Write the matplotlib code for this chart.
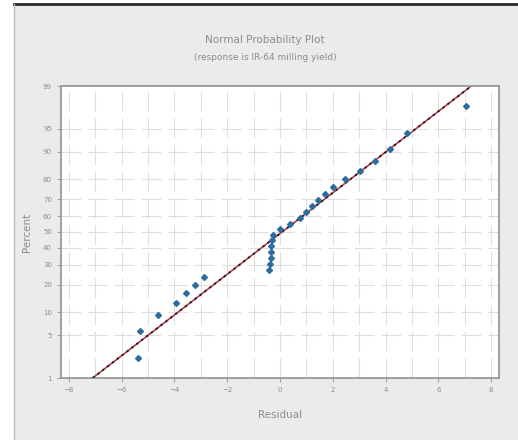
import math
import numpy as np
import matplotlib
matplotlib.use("Agg")
from matplotlib import pyplot as plt
from matplotlib.patches import Rectangle
from matplotlib.lines import Line2D

# residuals in rank order and their plotted percent positions
residual = [-5.38, -5.30, -4.62, -3.94, -3.56, -3.22, -2.88,
            -0.40, -0.38, -0.36, -0.35, -0.33, -0.30, -0.28,
            0.00, 0.38, 0.76, 0.98, 1.21, 1.44, 1.70, 2.00,
            2.46, 3.03, 3.60, 4.17, 4.81, 7.05]
percent = [2.2, 5.8, 9.3, 12.8, 16.4, 19.9, 23.5,
           27.0, 30.5, 34.1, 37.6, 41.2, 44.7, 48.2,
           51.8, 55.3, 58.8, 62.4, 65.9, 69.5, 73.0, 76.5,
           80.1, 83.6, 87.2, 90.7, 94.2, 97.8]

# fitted normal line (ends at 1% and 99%)
fit_pct = [1, 99]
fit_res = [-7.10, 7.25]

x_ticks = [-8, -6, -4, -2, 0, 2, 4, 6, 8]
y_ticks = [1, 5, 10, 20, 30, 40, 50, 60, 70, 80, 90, 95, 99]

_erf = np.vectorize(math.erf, otypes=[float])


def norm_cdf(z):
    z = np.asarray(z, float)
    if z.size == 0:
        return z
    return 0.5 * (1 + _erf(z / math.sqrt(2)))


def norm_ppf(p):
    p = np.clip(np.asarray(p, float), 1e-12, 1 - 1e-12)
    if p.size == 0:
        return p
    lo = np.full(p.shape, -12.0)
    hi = np.full(p.shape, 12.0)
    for i in range(70):
        mid = (lo + hi) / 2
        low = norm_cdf(mid) < p
        lo = np.where(low, mid, lo)
        hi = np.where(low, hi, mid)
    return (lo + hi) / 2


def fwd(v):
    return norm_ppf(np.asarray(v, float) / 100.0)


def inv(z):
    return norm_cdf(z) * 100.0


grey = "#8c8c8c"

fig = plt.figure(figsize=(5.18, 4.40), dpi=100)
fig.patch.set_facecolor("white")
fig.patches.append(Rectangle((14 / 518, 0), 1, 1 - 4 / 440, transform=fig.transFigure,
                             facecolor="#ebebeb", edgecolor="none", zorder=-10))
fig.lines.append(Line2D([14 / 518, 1], [1 - 4 / 440, 1 - 4 / 440], transform=fig.transFigure,
                        color="#2a2a2a", lw=2))
fig.lines.append(Line2D([14 / 518, 14 / 518], [0, 1 - 4 / 440], transform=fig.transFigure,
                        color="#b8b8b8", lw=1))

ax = fig.add_axes([61 / 518, 1 - 378 / 440, (499 - 61) / 518, (378 - 86) / 440])
ax.set_facecolor("white")
ax.set_yscale("function", functions=(fwd, inv))
ax.set_xlim(-8.3, 8.3)
ax.set_ylim(1, 99)

# grid
for xv in range(-8, 9):
    ax.axvline(xv, color="#dedede", lw=0.8, ls=(0, (18, 6)), zorder=0)
for yv in y_ticks[1:-1]:
    ax.axhline(yv, color="#dedede", lw=0.8, ls=(0, (18, 6)), zorder=0)

ax.plot(fit_res, fit_pct, color="#b23a48", lw=1.2, zorder=2)
ax.plot(fit_res, fit_pct, color="#1a1a1a", lw=1.3, ls=(0, (1.2, 2.2)), zorder=3)
ax.plot(residual, percent, "D", color="#2d6d9e", ms=3.0, mec="#2d6d9e", zorder=4)

ax.set_xticks(x_ticks)
ax.set_yticks(y_ticks)
ax.set_yticklabels([str(v) for v in y_ticks])
ax.minorticks_off()
ax.tick_params(labelsize=5, colors=grey, length=3, width=0.6)
for s in ax.spines.values():
    s.set_color("#999999")
    s.set_linewidth(1.3)

ax.set_xlabel("Residual", fontsize=7.5, color=grey, labelpad=12)
ax.set_ylabel("Percent", fontsize=7.5, color=grey, labelpad=8)

fig.text(265 / 518, 1 - 40 / 440, "Normal Probability Plot", ha="center", va="center",
         fontsize=7.5, color=grey)
fig.text(265 / 518, 1 - 58 / 440, "(response is IR-64 milling yield)", ha="center", va="center",
         fontsize=6.5, color=grey)

fig.savefig("out.png", dpi=100, facecolor=fig.get_facecolor())
